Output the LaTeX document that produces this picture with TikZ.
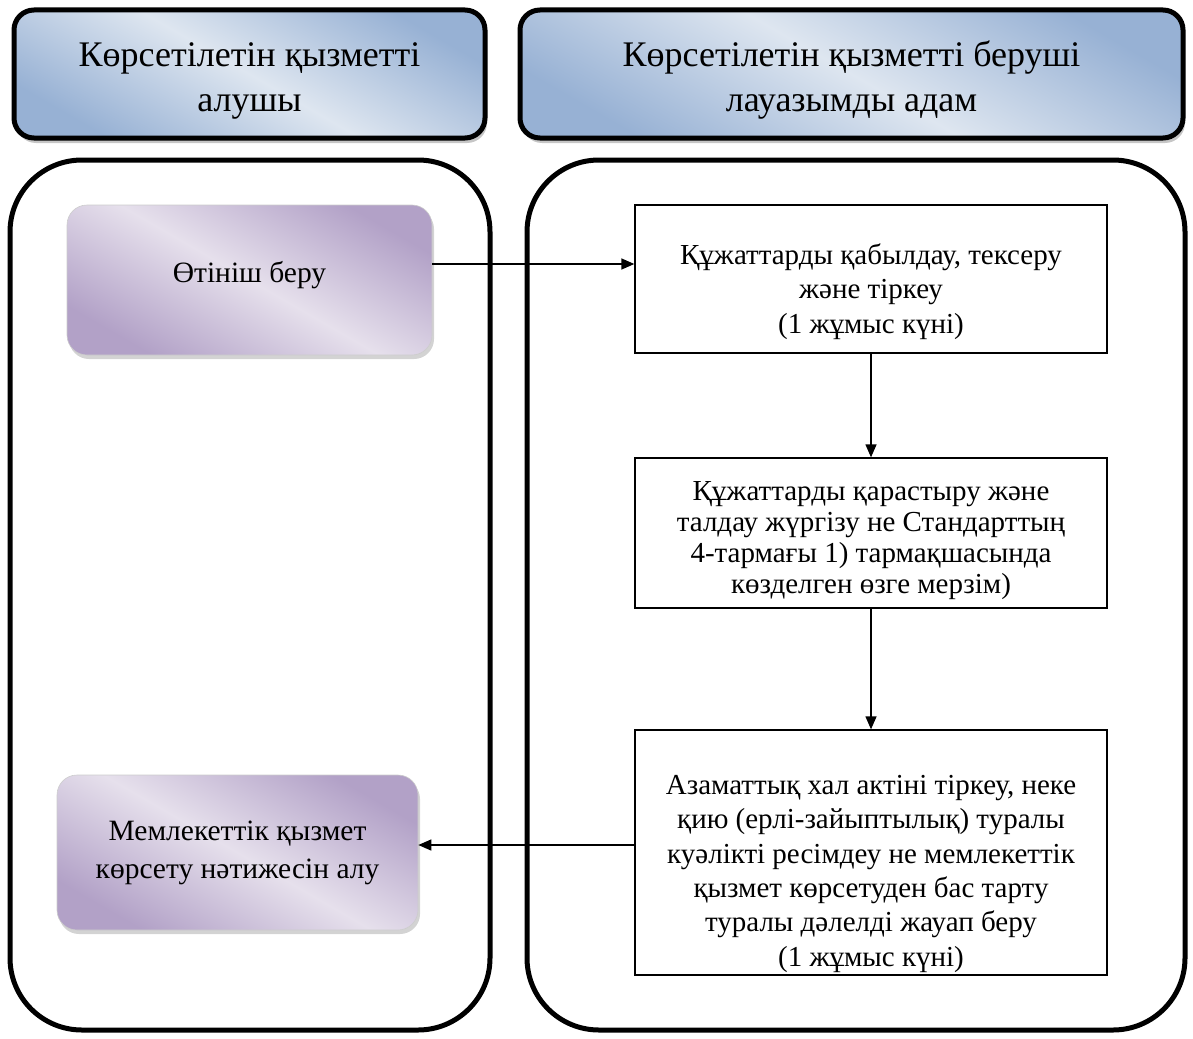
\documentclass[tikz,border=0pt]{standalone}
\usepackage{fontspec}
\setmainfont{Liberation Serif}
\usetikzlibrary{shadows,arrows.meta}
\definecolor{hdark}{HTML}{97B1D4}
\definecolor{hlight}{HTML}{DEE6F0}
\definecolor{pdark}{HTML}{B2A1C7}
\definecolor{plight}{HTML}{E6E0EC}
\newcommand{\shiftlines}[2]{\raisebox{#1}[\height][\depth]{\begin{tabular}{@{}c@{}}#2\end{tabular}}}
\tikzset{
  header/.style={rectangle, rounded corners=20pt, line width=5pt, draw=black,
    top color=hdark, bottom color=hdark, middle color=hlight, shading angle=-30,
    drop shadow={shadow xshift=2pt, shadow yshift=-5pt, opacity=0.45},
    align=center, font=\fontsize{36}{45}\selectfont},
  lane/.style={rectangle, rounded corners=72pt, line width=5pt, draw=black},
  pbox/.style={rectangle, rounded corners=20pt, draw=black!20, line width=0.6pt,
    top color=pdark, bottom color=pdark, middle color=plight, shading angle=-30,
    drop shadow={shadow xshift=2pt, shadow yshift=-4pt, opacity=0.35},
    align=center, font=\fontsize{29.5}{38}\selectfont},
  sbox/.style={rectangle, draw=black, line width=1.3pt, fill=white,
    align=center, font=\fontsize{29}{34.4}\selectfont},
  conn/.style={line width=1.3pt, -{Triangle[length=13pt,width=11pt]}}
}
\begin{document}
\begin{tikzpicture}[x=1pt,y=-1pt]
\useasboundingbox (0,0) rectangle (1193,1038);
\node[header, minimum width=471pt, minimum height=128pt] (h1) at (249.5,74)
  {\shiftlines{-6pt}{Көрсетілетін қызметті\\алушы}};
\node[header, minimum width=663pt, minimum height=128pt] (h2) at (851.5,74)
  {\shiftlines{-6pt}{Көрсетілетін қызметті беруші\\лауазымды адам}};
\node[lane, minimum width=480pt, minimum height=870pt] (l1) at (250,595) {};
\node[lane, minimum width=658pt, minimum height=870pt] (l2) at (856,595) {};
\node[pbox, minimum width=365pt, minimum height=150pt] (p1) at (249.5,280)
  {\shiftlines{5pt}{Өтініш беру}};
\node[pbox, minimum width=361pt, minimum height=155pt] (p2) at (237.5,852.5)
  {Мемлекеттік қызмет\\көрсету нәтижесін алу};
\node[sbox, minimum width=472pt, minimum height=148pt] (b1) at (871,279)
  {\shiftlines{-13pt}{Құжаттарды қабылдау, тексеру\\және тіркеу\\(1 жұмыс күні)}};
\node[sbox, minimum width=472pt, minimum height=150pt, font=\fontsize{29}{31}\selectfont] (b2) at (871,533)
  {\shiftlines{-8pt}{Құжаттарды қарастыру және\\талдау жүргізу не Стандарттың\\4-тармағы 1) тармақшасында\\көзделген өзге мерзім)}};
\node[sbox, minimum width=472pt, minimum height=245pt] (b3) at (871,852.5)
  {\shiftlines{-21pt}{Азаматтық хал актіні тіркеу, неке\\қию (ерлі-зайыптылық) туралы\\куәлікті ресімдеу не мемлекеттік\\қызмет көрсетуден бас тарту\\туралы дәлелді жауап беру\\(1 жұмыс күні)}};
\draw[conn] ([yshift=16pt]p1.east) -- ([yshift=16pt]p1.east -| b1.west);
\draw[conn] (b1.south) -- (b2.north);
\draw[conn] (b2.south) -- (b3.north);
\draw[conn] ([yshift=7.5pt]b3.west) -- ([yshift=7.5pt]b3.west -| p2.east);
\end{tikzpicture}
\end{document}
